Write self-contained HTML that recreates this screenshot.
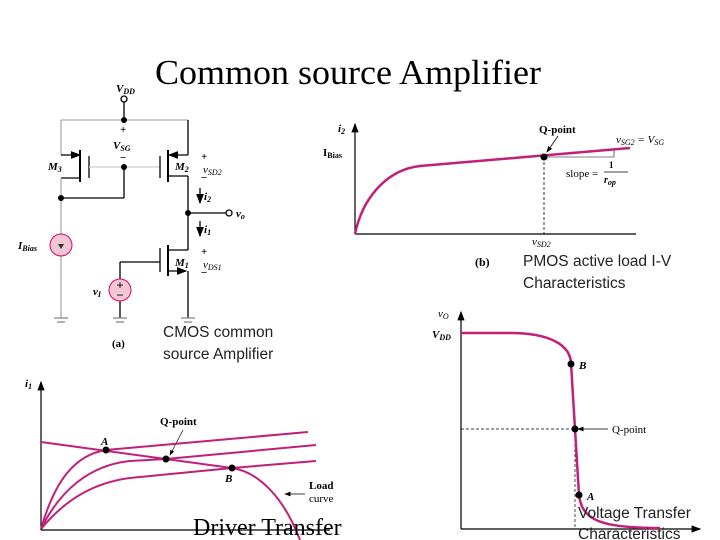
<!DOCTYPE html>
<html><head><style>
body{margin:0;background:#fff;width:720px;height:540px;overflow:hidden}
svg{position:absolute;left:0;top:0}
.s{font-family:"Liberation Serif",serif;font-style:italic;font-weight:bold}
.c{font-family:"Liberation Sans",sans-serif;font-size:15.5px;fill:#222}
</style></head><body>
<svg width="720" height="540" viewBox="0 0 720 540">
<defs><marker id="ar" markerWidth="8" markerHeight="8" refX="7" refY="4" orient="auto"><path d="M0,1 L8,4 L0,7z" fill="#000"/></marker></defs>
<text x="155" y="84" font-family="Liberation Serif,serif" font-size="35" textLength="386" lengthAdjust="spacingAndGlyphs">Common source Amplifier</text>
<!-- circuit -->
<g stroke="#000" stroke-width="1.3" fill="none">
<line x1="124" y1="102" x2="124" y2="120"/>
<circle cx="124" cy="99" r="3" fill="#fff"/>
<line x1="61" y1="120" x2="188" y2="120" stroke="#aaa"/>
<line x1="61" y1="120" x2="61" y2="155" stroke="#aaa"/>
<line x1="188" y1="120" x2="188" y2="155"/>
<line x1="61" y1="155" x2="80" y2="155" marker-end="url(#ar)"/>
<line x1="80" y1="150" x2="80" y2="182" stroke-width="2"/>
<line x1="89" y1="156" x2="89" y2="178"/>
<line x1="80" y1="178" x2="61" y2="178"/>
<line x1="61" y1="178" x2="61" y2="318" stroke="#aaa"/>
<line x1="89" y1="167" x2="160" y2="167" stroke="#ccc"/>
<line x1="124" y1="167" x2="124" y2="198"/>
<line x1="61" y1="198" x2="124" y2="198"/>
<line x1="160" y1="156" x2="160" y2="178"/>
<line x1="168" y1="150" x2="168" y2="182" stroke-width="2"/>
<line x1="188" y1="155" x2="169" y2="155" marker-end="url(#ar)"/>
<line x1="168" y1="176" x2="188" y2="176"/>
<line x1="188" y1="176" x2="188" y2="250"/>
<line x1="188" y1="213" x2="226" y2="213"/>
<circle cx="229" cy="213" r="3" fill="#fff"/>
<line x1="168" y1="250" x2="188" y2="250"/>
<line x1="168" y1="245" x2="168" y2="276" stroke-width="2"/>
<line x1="160" y1="248" x2="160" y2="272"/>
<line x1="168" y1="271" x2="186" y2="271" marker-end="url(#ar)"/>
<line x1="188" y1="271" x2="188" y2="318"/>
<line x1="160" y1="262" x2="120" y2="262"/>
<line x1="120" y1="262" x2="120" y2="318"/>
<line x1="200" y1="188" x2="200" y2="203" marker-end="url(#ar)"/>
<line x1="200" y1="221" x2="200" y2="236" marker-end="url(#ar)"/>
<g stroke="#888"><line x1="54" y1="318" x2="68" y2="318"/><line x1="57" y1="322" x2="65" y2="322"/>
<line x1="113" y1="318" x2="127" y2="318"/><line x1="116" y1="322" x2="124" y2="322"/>
<line x1="181" y1="318" x2="195" y2="318"/><line x1="184" y1="322" x2="192" y2="322"/></g>
</g>
<circle cx="61" cy="245" r="11" fill="#f3c6d6" stroke="#d06" stroke-width="1"/>
<path d="M58,244 L64,244 L61,249z" fill="#333"/>
<circle cx="120" cy="290" r="11" fill="#f3c6d6" stroke="#d06" stroke-width="1"/>
<text x="120" y="289" font-size="12" text-anchor="middle" font-family="Liberation Sans">+</text>
<text x="120" y="299" font-size="12" text-anchor="middle" font-family="Liberation Sans">−</text>
<g fill="#000"><circle cx="124" cy="120" r="3"/><circle cx="124" cy="167" r="3"/><circle cx="61" cy="198" r="3"/><circle cx="188" cy="213" r="3"/></g>
<g class="s" font-size="11">
<text x="116" y="92">V<tspan font-size="8" dy="2">DD</tspan></text>
<text x="120" y="133" font-style="normal">+</text>
<text x="113" y="149">V<tspan font-size="8" dy="2">SG</tspan></text>
<text x="120" y="161" font-style="normal">−</text>
<text x="48" y="170">M<tspan font-size="8" dy="2">3</tspan></text>
<text x="175" y="170">M<tspan font-size="8" dy="2">2</tspan></text>
<text x="201" y="160" font-style="normal">+</text>
<text x="203" y="173" font-weight="normal">v<tspan font-size="8" dy="2">SD2</tspan></text>
<text x="201" y="181" font-style="normal">−</text>
<text x="204" y="200">i<tspan font-size="8" dy="2">2</tspan></text>
<text x="236" y="217">v<tspan font-size="8" dy="2">o</tspan></text>
<text x="204" y="233">i<tspan font-size="8" dy="2">1</tspan></text>
<text x="175" y="266">M<tspan font-size="8" dy="2">1</tspan></text>
<text x="201" y="255" font-style="normal">+</text>
<text x="203" y="268" font-weight="normal">v<tspan font-size="8" dy="2">DS1</tspan></text>
<text x="201" y="276" font-style="normal">−</text>
<text x="93" y="295">v<tspan font-size="8" dy="2">I</tspan></text>
<text x="18" y="249">I<tspan font-size="8" dy="2">Bias</tspan></text>
<text x="112" y="347" font-style="normal">(a)</text>
</g>
<text class="c" x="163" y="337">CMOS common</text>
<text class="c" x="163" y="359">source Amplifier</text>
<!-- plot b -->
<g stroke="#000" stroke-width="1.2" fill="none">
<line x1="355" y1="234" x2="355" y2="124" marker-end="url(#ar)"/>
<line x1="355" y1="234" x2="636" y2="234"/>
<line x1="544" y1="157" x2="544" y2="234" stroke-dasharray="3,2" stroke-width="0.8"/>
<line x1="544" y1="157" x2="614" y2="157" stroke-width="0.6"/>
<line x1="614" y1="150" x2="614" y2="157" stroke-width="0.6"/>
<line x1="558" y1="136" x2="547" y2="152" stroke-width="0.8" marker-end="url(#ar)"/>
</g>
<path d="M355,234 C362,200 385,170 420,166 L630,148" stroke="#c0207a" stroke-width="2.5" fill="none"/>
<circle cx="544" cy="157" r="3.5"/>
<g class="s" font-size="11">
<text x="338" y="132">i<tspan font-size="8" dy="2">2</tspan></text>
<text x="323" y="156" font-style="normal">I<tspan font-size="8" dy="2">Bias</tspan></text>
<text x="539" y="133" font-style="normal">Q-point</text>
<text x="616" y="143" font-weight="normal">v<tspan font-size="8" dy="2">SG2</tspan><tspan dy="-2"> = V</tspan><tspan font-size="8" dy="2">SG</tspan></text>
<text x="566" y="177" font-style="normal" font-weight="normal">slope = </text>
<text x="609" y="168" font-size="9" font-style="normal">1</text>
<line x1="604" y1="172" x2="628" y2="172" stroke="#000" stroke-width="0.8"/>
<text x="604" y="183" font-size="10">r<tspan font-size="8" dy="2">op</tspan></text>
<text x="532" y="245" font-weight="normal">v<tspan font-size="8" dy="2">SD2</tspan></text>
<text x="475" y="266" font-style="normal" font-size="12">(b)</text>
</g>
<text class="c" x="523" y="266">PMOS active load I-V</text>
<text class="c" x="523" y="288">Characteristics</text>
<!-- plot c -->
<g stroke="#000" stroke-width="1.2" fill="none">
<line x1="41" y1="530" x2="41" y2="382" marker-end="url(#ar)"/>
<line x1="41" y1="530" x2="330" y2="530"/>
<line x1="183" y1="430" x2="170" y2="455" stroke-width="0.7" marker-end="url(#ar)"/>
<line x1="305" y1="494" x2="285" y2="494" stroke-width="0.8" marker-end="url(#ar)"/>
</g>
<g stroke="#c0207a" stroke-width="2" fill="none">
<path d="M41,442 L232,468 C260,472 285,500 300,540"/>
<path d="M41,529 C55,480 75,455 106,450 L308,432"/>
<path d="M41,529 C60,490 90,465 130,461 L166,459 L316,445"/>
<path d="M41,529 C65,500 95,480 140,477 L232,468 L316,461"/>
</g>
<g fill="#000"><circle cx="106" cy="450" r="3.5"/><circle cx="166" cy="459" r="3.5"/><circle cx="232" cy="468" r="3.5"/></g>
<g class="s" font-size="11">
<text x="25" y="387">i<tspan font-size="8" dy="2">1</tspan></text>
<text x="160" y="425" font-style="normal">Q-point</text>
<text x="101" y="445">A</text>
<text x="225" y="482">B</text>
<text x="309" y="489" font-style="normal">Load</text>
<text x="309" y="502" font-style="normal" font-weight="normal">curve</text>
</g>
<text x="193" y="535" font-family="Liberation Serif,serif" font-size="24">Driver Transfer</text>
<!-- plot d -->
<g stroke="#000" stroke-width="1.2" fill="none">
<line x1="461" y1="529" x2="461" y2="312" marker-end="url(#ar)"/>
<line x1="461" y1="529" x2="700" y2="529" marker-end="url(#ar)"/>
<line x1="461" y1="429" x2="575" y2="429" stroke-dasharray="3,2" stroke-width="0.7"/>
<line x1="575" y1="429" x2="575" y2="529" stroke-dasharray="3,2" stroke-width="0.7"/>
<line x1="608" y1="429" x2="578" y2="429" stroke-width="0.8" marker-end="url(#ar)"/>
</g>
<path d="M461,333 L510,333 C550,333 570,345 571,363 L575,429 L579,495 C582,520 600,528 660,528" stroke="#c0207a" stroke-width="2.5" fill="none"/>
<g fill="#000"><circle cx="571" cy="364" r="3.5"/><circle cx="575" cy="429" r="3.5"/><circle cx="579" cy="495" r="3.5"/></g>
<g class="s" font-size="11">
<text x="438" y="317" font-weight="normal">v<tspan font-size="8" dy="2">O</tspan></text>
<text x="432" y="338">V<tspan font-size="8" dy="2">DD</tspan></text>
<text x="579" y="369">B</text>
<text x="612" y="433" font-style="normal" font-weight="normal">Q-point</text>
<text x="587" y="500">A</text>
</g>
<text class="c" x="578" y="518">Voltage Transfer</text>
<text class="c" x="578" y="539">Characteristics</text>
</svg>
</body></html>
